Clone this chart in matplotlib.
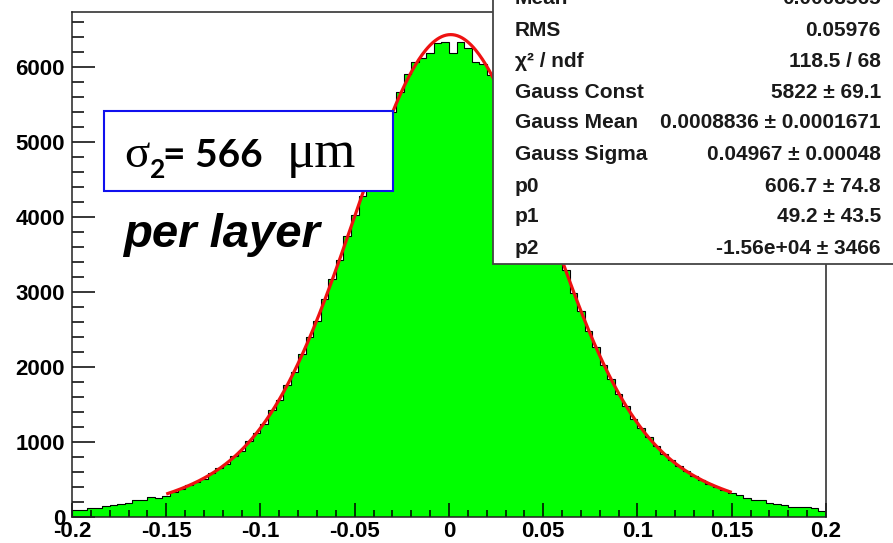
import numpy as np
import matplotlib
matplotlib.use('Agg')
import matplotlib.pyplot as plt
from matplotlib.patches import Rectangle
from matplotlib.transforms import IdentityTransform

# ---------------- data ----------------
x_lo, x_hi, n_bins = -0.2, 0.2, 100
counts = [95, 92, 118, 125, 145, 163, 168, 182, 222, 230,
          262, 258, 285, 335, 372, 425, 470, 512, 585, 648,
          705, 815, 880, 1010, 1115, 1240, 1420, 1560, 1760, 1930,
          2170, 2400, 2610, 2900, 3170, 3420, 3740, 4030, 4280, 4610,
          4890, 5150, 5400, 5660, 5900, 6060, 6120, 6180, 6320, 6330,
          6190, 6330, 6250, 6060, 6040, 5890, 5720, 5480, 5260, 4980,
          4700, 4440, 4130, 3860, 3550, 3290, 2990, 2750, 2480, 2270,
          2030, 1840, 1640, 1480, 1310, 1185, 1070, 950, 840, 755,
          675, 610, 548, 490, 445, 400, 365, 325, 290, 255,
          228, 226, 188, 175, 160, 138, 137, 136, 116, 86]

# fit: gaus + pol2 (parameters from the statistics box)
fit_range = (-0.15, 0.15)
gauss_const, gauss_mean, gauss_sigma = 5822.0, 0.0008836, 0.04967
p0, p1, p2 = 606.7, 49.2, -1.56e4

xtick_values = [-0.2, -0.15, -0.1, -0.05, 0.0, 0.05, 0.1, 0.15, 0.2]
xtick_labels = ['-0.2', '-0.15', '-0.1', '-0.05', '0', '0.05', '0.1', '0.15', '0.2']
ytick_values = [0, 1000, 2000, 3000, 4000, 5000, 6000]
ytick_labels = ['0', '1000', '2000', '3000', '4000', '5000', '6000']
y_max = 6730

stats_labels = ['Mean', 'RMS', 'χ² / ndf', 'Gauss Const', 'Gauss Mean',
                'Gauss Sigma', 'p0', 'p1', 'p2']
stats_values = ['0.0008565', '0.05976', '118.5 / 68', '5822 ± 69.1',
                '0.0008836 ± 0.0001671', '0.04967 ± 0.00048',
                '606.7 ± 74.8', '49.2 ± 43.5', '-1.56e+04 ± 3466']

# ---------------- figure ----------------
W, H = 893, 543
fig = plt.figure(figsize=(W / 100, H / 100), dpi=100)
fig.patch.set_facecolor('white')
ax = fig.add_axes([72 / W, 26 / H, 754 / W, 505 / H])

edges = np.linspace(x_lo, x_hi, n_bins + 1)
ax.stairs(counts, edges, fill=True, color='#00ff00', zorder=1)
ax.stairs(counts, edges, color='black', lw=0.8, zorder=2)

xf = np.linspace(fit_range[0], fit_range[1], 500)
yf = (gauss_const * np.exp(-0.5 * ((xf - gauss_mean) / gauss_sigma) ** 2)
      + p0 + p1 * xf + p2 * xf ** 2)
ax.plot(xf, yf, color='#ee1111', lw=2.3, zorder=3, solid_capstyle='butt')

ax.set_xlim(x_lo, x_hi)
ax.set_ylim(0, y_max)

for s in ax.spines.values():
    s.set_color('#222222')
    s.set_linewidth(1.1)

tick_font = dict(family='Liberation Sans', weight='bold', size=16)
ax.set_xticks(xtick_values)
ax.set_xticklabels(xtick_labels, fontdict=tick_font)
ax.set_xticks(np.arange(-0.2, 0.2001, 0.01), minor=True)
ax.set_yticks(ytick_values)
ax.set_yticklabels(ytick_labels, fontdict=tick_font)
ax.set_yticks(np.arange(0, y_max, 200), minor=True)

ax.tick_params(axis='x', which='major', direction='in', length=10, width=1.1,
               pad=3, top=False, color='black')
ax.tick_params(axis='x', which='minor', direction='in', length=5, width=1.1,
               top=False, color='black')
ax.tick_params(axis='y', which='major', direction='in', length=16.5, width=1.1,
               pad=5, right=False, color='black')
ax.tick_params(axis='y', which='minor', direction='in', length=8.5, width=1.1,
               right=False, color='black')

ident = IdentityTransform()

# statistics box (extends beyond the canvas like the reference)
fig.add_artist(Rectangle((493, H - 264), 430, 320, transform=ident,
                         facecolor='white', edgecolor='#444444', lw=1.3,
                         zorder=10))
row_y = [-1, 30, 61.5, 92, 123, 155, 186, 217, 248]
for lab, val, yy in zip(stats_labels, stats_values, row_y):
    fig.text(515, H - yy, lab, transform=ident, ha='left', va='center',
             family='Liberation Sans', weight='bold', size=15,
             color='#1a1a1a', zorder=11)
    fig.text(881, H - yy, val, transform=ident, ha='right', va='center',
             family='Liberation Sans', weight='bold', size=15,
             color='#1a1a1a', zorder=11)

# blue annotation box
fig.add_artist(Rectangle((104, H - 191), 289, 80, transform=ident,
                         facecolor='white', edgecolor='#1010ee', lw=1.5,
                         zorder=8))
base = H - 167
fig.text(124, base, 'σ', transform=ident, ha='left', va='baseline',
         family='Liberation Serif', size=34, color='black', zorder=9)
fig.text(150, base - 11, '2', transform=ident, ha='left', va='baseline',
         family='Lato', weight='bold', size=19, color='black', zorder=9)
fig.text(163, base, '= 566', transform=ident, ha='left', va='baseline',
         family='Lato', weight='bold', size=28, color='black', zorder=9)
fig.text(287, base, 'μm', transform=ident, ha='left', va='baseline',
         family='Liberation Serif', size=38, color='black', zorder=9)

fig.text(123, H - 247, 'per layer', transform=ident, ha='left', va='baseline',
         family='Liberation Sans', weight='bold', style='italic', size=34,
         color='black', zorder=9)

fig.savefig('out.png', dpi=100, facecolor='white')
